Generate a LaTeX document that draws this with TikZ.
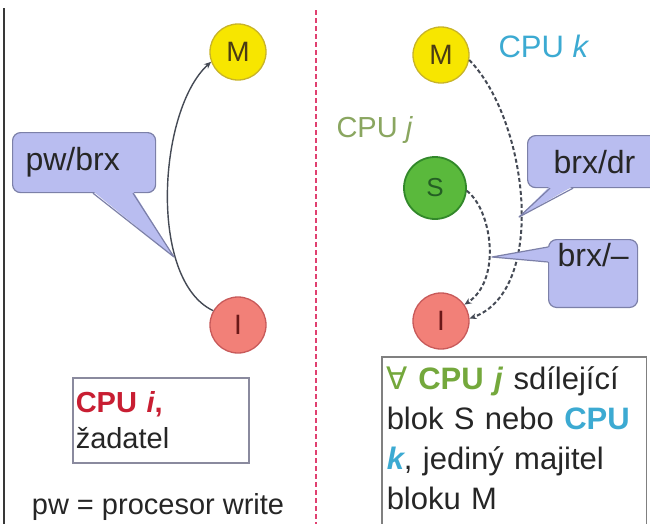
\documentclass[tikz,border=0pt]{standalone}
\usepackage{fontspec}
\setmainfont{Liberation Sans}
\newfontfamily\symfont{DejaVu Sans}
\usetikzlibrary{arrows.meta,calc}

\definecolor{ink}{HTML}{262626}
\definecolor{ylw}{HTML}{F7E600}
\definecolor{ylwd}{HTML}{C8B428}
\definecolor{mtext}{HTML}{4A3C14}
\definecolor{pnk}{HTML}{F28078}
\definecolor{pnkd}{HTML}{C85A5A}
\definecolor{itext}{HTML}{6A1818}
\definecolor{grn}{HTML}{5AB93C}
\definecolor{grnd}{HTML}{32882A}
\definecolor{stext}{HTML}{245E24}
\definecolor{callf}{HTML}{B9BDF0}
\definecolor{calld}{HTML}{7C80A8}
\definecolor{boxd}{HTML}{8A8A9E}
\definecolor{flow}{HTML}{454A55}
\definecolor{reddiv}{HTML}{E04070}
\definecolor{cpui}{HTML}{C81E32}
\definecolor{cpuj}{HTML}{74A83C}
\definecolor{cpujlbl}{HTML}{8AA660}
\definecolor{cpuk}{HTML}{3CAAD2}

\tikzset{
  stnode/.style={circle, draw, line width=1.3pt, minimum size=56pt, inner sep=0pt,
    font=\fontsize{28}{28}\selectfont},
  mstate/.style={stnode, fill=ylw, draw=ylwd, text=mtext},
  istate/.style={stnode, fill=pnk, draw=pnkd, text=itext},
  sstate/.style={stnode, fill=grn, draw=grnd, text=stext, minimum size=62pt, line width=1.8pt,
    font=\fontsize{26}{26}\selectfont},
  callbox/.style={draw=calld, fill=callf, line width=1.2pt, rounded corners=8pt,
    align=left, text=ink, font=\fontsize{32}{38}\selectfont, anchor=north west},
  callline/.style={draw=calld, line width=1.2pt, line join=round},
  infobox/.style={draw=boxd, line width=1.5pt, align=left, text=ink, anchor=north west},
  solidflow/.style={draw=flow, line width=1.4pt, -{Stealth[length=7pt,width=6pt]}},
  dashflow/.style={solidflow, dash pattern=on 4pt off 2.5pt, line width=2pt},
}

\begin{document}
\begin{tikzpicture}[x=1pt,y=-1pt]
  \fill[white] (0,0) rectangle (650,523);
  \useasboundingbox (0,0) rectangle (650,523);

  % frame line and the divider between the two halves
  \draw[line width=2.5pt, draw=black!78] (4,8) -- (4,530);
  \draw[line width=2.2pt, draw=reddiv, dash pattern=on 5pt off 3pt] (316,10) -- (316,530);

  % left half: requesting processor
  \node[mstate] (Ml) at (238,52) {M};
  \node[istate] (Il) at (238,325) {I};
  \draw[solidflow] (Il.150) .. controls (148,280) and (158,110) .. (Ml.200);

  \coordinate (pwtip) at (174,257);
  \node[callbox, text width=117pt, inner xsep=13pt, minimum height=60pt] (pwbox) at (12,132) {pw/brx};
  \fill[callf] ($(pwbox.south west)+(81,-2)$) -- (pwtip) -- ($(pwbox.south west)+(121,-2)$) -- cycle;
  \draw[callline] ($(pwbox.south west)+(81,0)$) -- (pwtip) -- ($(pwbox.south west)+(121,0)$);

  \node[infobox, text width=170pt, inner xsep=3pt, minimum height=85pt,
        font=\fontsize{29}{36}\selectfont] (ibox) at (72,377)
        {{\color{cpui}\bfseries CPU \textit{i},}\\žadatel};
  \node[anchor=base, text=ink, font=\fontsize{29}{36}\selectfont] (pwnote) at (158,514) {pw = procesor write};

  % right half: other processors holding the block
  \node[mstate] (Mr) at (441,55) {M};
  \node[sstate] (Sr) at (435,188) {S};
  \node[istate] (Ir) at (441,321) {I};
  \node[anchor=base west, text=cpuk, font=\fontsize{31}{31}\selectfont] (klbl) at (495,57) {CPU \textit{k}};
  \node[anchor=base west, text=cpujlbl, font=\fontsize{29}{29}\selectfont] (jlbl) at (333,137) {CPU \textit{j}};

  \draw[dashflow] (Mr.-10) .. controls (528,120) and (548,290) .. (Ir.5);
  \draw[dashflow] (Sr.-5) .. controls (492,210) and (502,280) .. (Ir.35);

  \coordinate (drtip) at (519,217);
  \node[callbox, text width=85pt, inner xsep=26pt, minimum height=52pt] (drbox) at (527,135) {brx/dr};
  \fill[callf] ($(drbox.south west)+(23,-2)$) -- (drtip) -- ($(drbox.south west)+(46,-2)$) -- cycle;
  \draw[callline] ($(drbox.south west)+(23,0)$) -- (drtip) -- ($(drbox.south west)+(46,0)$);

  \coordinate (dashtip) at (492,257);
  \node[callbox, text width=71pt, inner xsep=9pt, minimum height=50pt] (dashbox) at (548,239) {brx/–};
  \fill[callf] ($(dashbox.north west)+(2,8)$) -- (dashtip) -- ($(dashbox.north west)+(2,23)$) -- cycle;
  \draw[callline] ($(dashbox.north west)+(0,8)$) -- (dashtip) -- ($(dashbox.north west)+(0,23)$);

  % the note box runs on past the lower edge
  \node[infobox, draw=none, text width=255pt, inner xsep=4pt, inner ysep=9pt,
        font=\fontsize{31}{40}\selectfont] (kbox) at (382,357)
        {{\color{cpuj}{\symfont ∀} \bfseries CPU \textit{j}} sdílející\\
         blok S nebo {\color{cpuk}\bfseries CPU}\\
         {\color{cpuk}\bfseries\itshape k}, jediný majitel\\
         bloku M};
  \draw[draw=black!50, line width=1.5pt] (kbox.north west) rectangle ($(kbox.north east)+(0,200)$);
\end{tikzpicture}
\end{document}
